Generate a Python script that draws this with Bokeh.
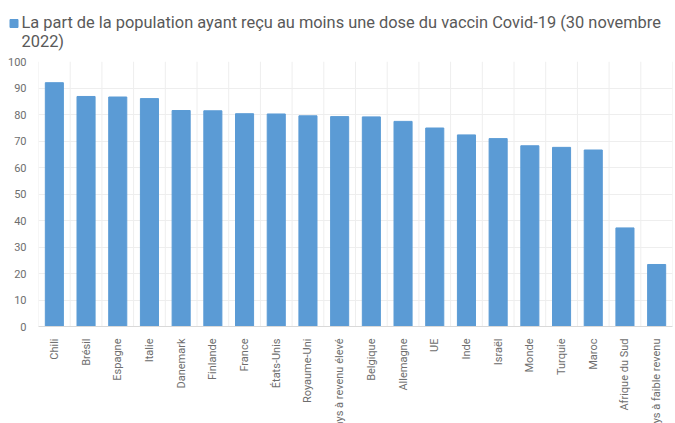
from bokeh.plotting import figure
from bokeh.models import FixedTicker, Range1d, ColumnDataSource, Label
from bokeh.layouts import column, row
from bokeh.embed import file_html
from bokeh.resources import INLINE
import math

categories = ["Chili", "Brésil", "Espagne", "Italie", "Danemark", "Finlande", "France",
              "États-Unis", "Royaume-Uni", "Pays à revenu élevé", "Belgique", "Allemagne",
              "UE", "Inde", "Israël", "Monde", "Turquie", "Maroc", "Afrique du Sud",
              "Pays à faible revenu"]
values = [92.0, 86.8, 86.6, 86.0, 81.5, 81.4, 80.3, 80.2, 79.5, 79.2, 79.1, 77.4,
          74.9, 72.3, 70.9, 68.2, 67.6, 66.6, 37.2, 23.4]
title_line1 = "La part de la population ayant reçu au moins une dose du vaccin Covid-19 (30 novembre"
title_line2 = "2022)"
y_ticks = list(range(0, 101, 10))

FONT = "Roboto"
GRAY = "#595959"
TICK_GRAY = "#6E6E6E"
BLUE = "#5B9BD5"

# ---- header (legend-like title) ----
W = 675
HEAD_H = 53
head = figure(width=W, height=HEAD_H, x_range=Range1d(0, W), y_range=Range1d(0, HEAD_H),
              x_axis_location=None, y_axis_location=None,
              output_backend="svg", toolbar_location=None,
              min_border=0, min_border_left=0, min_border_right=0,
              min_border_top=0, min_border_bottom=0, outline_line_color=None)
head.grid.visible = False
head.scatter(x=[13.5], y=[30], marker="square", size=8, color=BLUE)
head.add_layout(Label(x=21, y=31, x_units="data", y_units="data", text=title_line1,
                      text_color=GRAY, text_font=FONT, text_font_size="16.4px",
                      text_baseline="middle"))
head.add_layout(Label(x=21, y=12, x_units="data", y_units="data", text=title_line2,
                      text_color=GRAY, text_font=FONT, text_font_size="16.4px",
                      text_baseline="middle"))

# ---- main chart ----
src = ColumnDataSource(data=dict(cat=categories, val=values))

p = figure(x_range=categories, y_range=Range1d(0, 100),
           frame_width=634, frame_height=265,
           output_backend="svg", toolbar_location=None,
           min_border_left=38, min_border_right=2, min_border_top=8, min_border_bottom=0)

# vertical separators between categories (synthetic coordinates)
seps = list(range(len(categories) + 1))
p.segment(x0=seps, x1=seps, y0=[0] * len(seps), y1=[100] * len(seps),
          line_color="#EEEEEE", line_width=1)

p.vbar(x="cat", top="val", width=0.57, source=src, color=BLUE)

p.outline_line_color = None
p.xaxis.major_label_orientation = math.pi / 2
p.xaxis.major_tick_line_color = None
p.xaxis.minor_tick_line_color = None
p.xaxis.axis_line_color = "#D9D9D9"
p.xaxis.major_label_text_font = FONT
p.xaxis.major_label_text_font_size = "11px"
p.xaxis.major_label_text_color = TICK_GRAY
p.xaxis.major_label_standoff = 6

p.yaxis.ticker = FixedTicker(ticks=y_ticks)
p.yaxis.axis_line_color = None
p.yaxis.major_tick_line_color = None
p.yaxis.minor_tick_line_color = None
p.yaxis.major_label_text_font = FONT
p.yaxis.major_label_text_font_size = "11px"
p.yaxis.major_label_text_color = TICK_GRAY
p.yaxis.major_label_standoff = 6

p.xgrid.visible = False
p.ygrid.grid_line_color = "#EEEEEE"

layout = column(row(head), p, spacing=0)
open("out.html", "w").write(file_html(layout, INLINE))
